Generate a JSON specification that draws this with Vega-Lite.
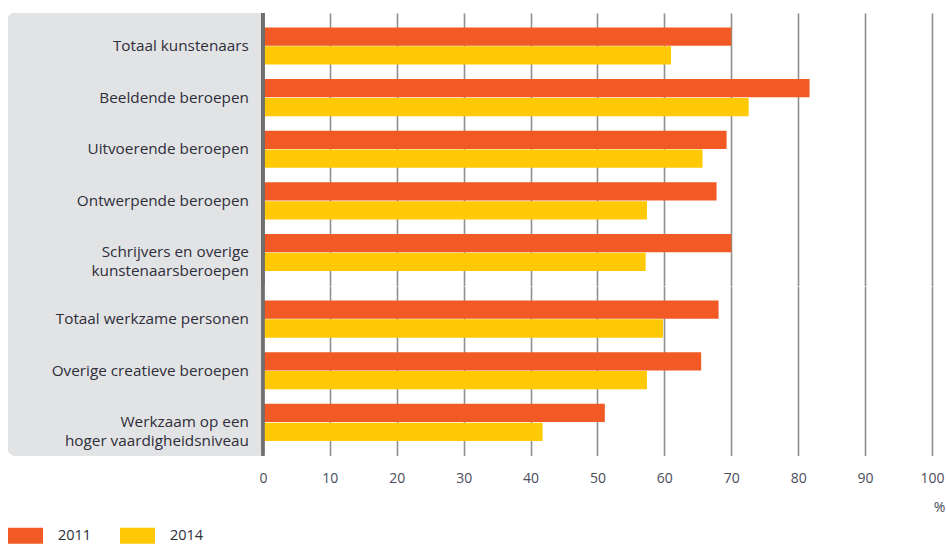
{
  "$schema": "https://vega.github.io/schema/vega-lite/v6.json",
  "padding": {"left": 8, "top": 11, "right": 0, "bottom": 0},
  "spacing": 0,
  "bounds": "flush",
  "config": {
    "view": {"stroke": null},
    "font": "Open Sans",
    "concat": {"spacing": 0},
    "legend": {
      "orient": "none",
      "legendX": 0,
      "legendY": 505,
      "direction": "horizontal",
      "title": null,
      "symbolType": "M-1,-0.46H1V0.46H-1Z",
      "symbolSize": 1225,
      "symbolStrokeWidth": 0,
      "labelFontSize": 14.5,
      "labelColor": "#2e2e3a",
      "labelOffset": 15,
      "columnPadding": 28
    }
  },
  "datasets": {
    "rows": [
      {"section": "top", "category": "Totaal kunstenaars", "label": "Totaal kunstenaars", "year": "2011", "value": 70.0},
      {"section": "top", "category": "Totaal kunstenaars", "label": "Totaal kunstenaars", "year": "2014", "value": 61.0},
      {"section": "top", "category": "Beeldende beroepen", "label": "Beeldende beroepen", "year": "2011", "value": 81.7},
      {"section": "top", "category": "Beeldende beroepen", "label": "Beeldende beroepen", "year": "2014", "value": 72.6},
      {"section": "top", "category": "Uitvoerende beroepen", "label": "Uitvoerende beroepen", "year": "2011", "value": 69.3},
      {"section": "top", "category": "Uitvoerende beroepen", "label": "Uitvoerende beroepen", "year": "2014", "value": 65.7},
      {"section": "top", "category": "Ontwerpende beroepen", "label": "Ontwerpende beroepen", "year": "2011", "value": 67.8},
      {"section": "top", "category": "Ontwerpende beroepen", "label": "Ontwerpende beroepen", "year": "2014", "value": 57.4},
      {"section": "top", "category": "Schrijvers en overige kunstenaarsberoepen", "label": "Schrijvers en overige\nkunstenaarsberoepen", "year": "2011", "value": 70.0},
      {"section": "top", "category": "Schrijvers en overige kunstenaarsberoepen", "label": "Schrijvers en overige\nkunstenaarsberoepen", "year": "2014", "value": 57.2},
      {"section": "bottom", "category": "Totaal werkzame personen", "label": "Totaal werkzame personen", "year": "2011", "value": 68.1},
      {"section": "bottom", "category": "Totaal werkzame personen", "label": "Totaal werkzame personen", "year": "2014", "value": 59.8},
      {"section": "bottom", "category": "Overige creatieve beroepen", "label": "Overige creatieve beroepen", "year": "2011", "value": 65.5},
      {"section": "bottom", "category": "Overige creatieve beroepen", "label": "Overige creatieve beroepen", "year": "2014", "value": 57.4},
      {"section": "bottom", "category": "Werkzaam op een hoger vaardigheidsniveau", "label": "Werkzaam op een\nhoger vaardigheidsniveau", "year": "2011", "value": 51.1},
      {"section": "bottom", "category": "Werkzaam op een hoger vaardigheidsniveau", "label": "Werkzaam op een\nhoger vaardigheidsniveau", "year": "2014", "value": 41.8}
    ]
  },
  "vconcat": [
    {
      "width": 924,
      "height": 272.5,
      "data": {"name": "rows"},
      "transform": [{"filter": "datum.section === 'top'"}],
      "layer": [
        {
          "mark": {"type": "rect", "color": "#e2e3e5", "cornerRadiusTopLeft": 7},
          "encoding": {
            "x": {"datum": -38.1, "type": "quantitative", "scale": {"domain": [-38.1, 100], "nice": false, "zero": false},
              "axis": {"values": [0, 10, 20, 30, 40, 50, 60, 70, 80, 90, 100], "grid": true, "gridColor": "#8f8f8f", "gridWidth": 1.6, "labels": false, "ticks": false, "domain": false, "title": null}},
            "x2": {"datum": 0}
          }
        },
        {
          "mark": {"type": "bar"},
          "encoding": {
            "y": {"field": "category", "type": "nominal", "sort": null, "axis": null, "scale": {"paddingInner": 0.28, "paddingOuter": 0.28}},
            "yOffset": {"field": "year", "type": "nominal", "scale": {"paddingInner": 0.03}},
            "x": {"field": "value", "type": "quantitative"},
            "color": {"field": "year", "type": "nominal", "scale": {"domain": ["2011", "2014"], "range": ["#f15a24", "#ffca05"]}}
          }
        },
        {
          "mark": {"type": "rule", "color": "#6f6f6f", "strokeWidth": 2.6},
          "encoding": {"x": {"datum": 0, "type": "quantitative"}}
        },
        {
          "transform": [{"filter": "datum.year === '2011'"}],
          "mark": {"type": "text", "align": "right", "baseline": "middle", "lineBreak": "\n", "lineHeight": 19, "fontSize": 15.3, "color": "#2e2e3a"},
          "encoding": {
            "y": {"field": "category", "type": "nominal", "sort": null},
            "x": {"datum": -2.1, "type": "quantitative"},
            "text": {"field": "label"}
          }
        }
      ]
    },
    {
      "width": 924,
      "height": 169.5,
      "data": {"name": "rows"},
      "transform": [{"filter": "datum.section === 'bottom'"}],
      "layer": [
        {
          "mark": {"type": "rect", "color": "#e2e3e5", "cornerRadiusBottomLeft": 7},
          "encoding": {
            "x": {"datum": -38.1, "type": "quantitative", "scale": {"domain": [-38.1, 100], "nice": false, "zero": false},
              "axis": {"values": [0, 10, 20, 30, 40, 50, 60, 70, 80, 90, 100], "grid": true, "gridColor": "#8f8f8f", "gridWidth": 1.6, "labels": true, "labelFlush": false, "labelFontSize": 14, "labelColor": "#4a4d5a", "labelPadding": 16, "ticks": false, "domain": false,
                "title": "%", "titleFontSize": 14, "titleFontWeight": "normal", "titleColor": "#4a4d5a", "titleX": 931, "titleY": 52, "titleAlign": "center", "titleBaseline": "middle"}},
            "x2": {"datum": 0}
          }
        },
        {
          "mark": {"type": "bar"},
          "encoding": {
            "y": {"field": "category", "type": "nominal", "sort": null, "axis": null, "scale": {"paddingInner": 0.28, "paddingOuter": 0.28}},
            "yOffset": {"field": "year", "type": "nominal", "scale": {"paddingInner": 0.03}},
            "x": {"field": "value", "type": "quantitative"},
            "color": {"field": "year", "type": "nominal", "scale": {"domain": ["2011", "2014"], "range": ["#f15a24", "#ffca05"]}}
          }
        },
        {
          "mark": {"type": "rule", "color": "#6f6f6f", "strokeWidth": 2.6},
          "encoding": {"x": {"datum": 0, "type": "quantitative"}}
        },
        {
          "transform": [{"filter": "datum.year === '2011'"}],
          "mark": {"type": "text", "align": "right", "baseline": "middle", "lineBreak": "\n", "lineHeight": 19, "fontSize": 15.3, "color": "#2e2e3a"},
          "encoding": {
            "y": {"field": "category", "type": "nominal", "sort": null},
            "x": {"datum": -2.1, "type": "quantitative"},
            "text": {"field": "label"}
          }
        }
      ]
    }
  ]
}
